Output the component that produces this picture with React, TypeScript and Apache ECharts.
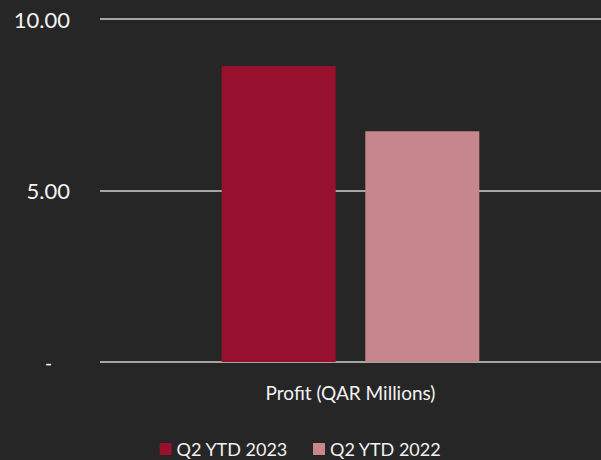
import React, { useEffect, useRef } from "react";
import * as echarts from "echarts";

const categories = ["Profit (QAR Millions)"];
const seriesNames = ["Q2 YTD 2023", "Q2 YTD 2022"];
const values2023 = [8.63];
const values2022 = [6.73];
const colors = ["#97112f", "#c5868c"];

export default function App() {
  const ref = useRef<HTMLDivElement>(null);
  useEffect(() => {
    const chart = echarts.init(ref.current!, null, { renderer: "svg" });
    const font = "Lato, 'Open Sans', sans-serif";
    chart.setOption({
      animation: false,
      backgroundColor: "#262626",
      textStyle: { fontFamily: font },
      grid: { left: 100, right: -3, top: 19, bottom: 98, containLabel: false },
      legend: {
        bottom: -3,
        left: "center",
        itemWidth: 12,
        itemHeight: 12,
        itemGap: 25,
        icon: "rect",
        textStyle: { color: "#f2f2f2", fontSize: 18, fontFamily: font },
        data: seriesNames,
      },
      xAxis: {
        type: "category",
        data: categories,
        axisLine: { show: false },
        axisTick: { show: false },
        axisLabel: { color: "#f2f2f2", fontSize: 19, margin: 21, fontFamily: font },
      },
      yAxis: {
        type: "value",
        min: 0,
        max: 10,
        interval: 5,
        axisLine: { show: false },
        axisTick: { show: false },
        splitLine: { lineStyle: { color: "#d0d0d0", width: 1.5 } },
        axisLabel: {
          color: "#f2f2f2",
          fontSize: 22,
          margin: 30,
          fontFamily: font,
          formatter: (v: number) => (v === 0 ? "{d|-}" : v.toFixed(2)),
          rich: { d: { color: "#f2f2f2", fontSize: 19, padding: [0, 18, 0, 0] } },
        },
      },
      series: [
        {
          name: seriesNames[0],
          type: "bar",
          data: values2023,
          barWidth: 114,
          barGap: "26%",
          itemStyle: { color: colors[0] },
        },
        {
          name: seriesNames[1],
          type: "bar",
          data: values2022,
          barWidth: 114,
          itemStyle: { color: colors[1] },
        },
      ],
    });
    return () => chart.dispose();
  }, []);
  return <div ref={ref} style={{ width: 601, height: 460, position: "absolute", left: 0, top: 0 }} />;
}
